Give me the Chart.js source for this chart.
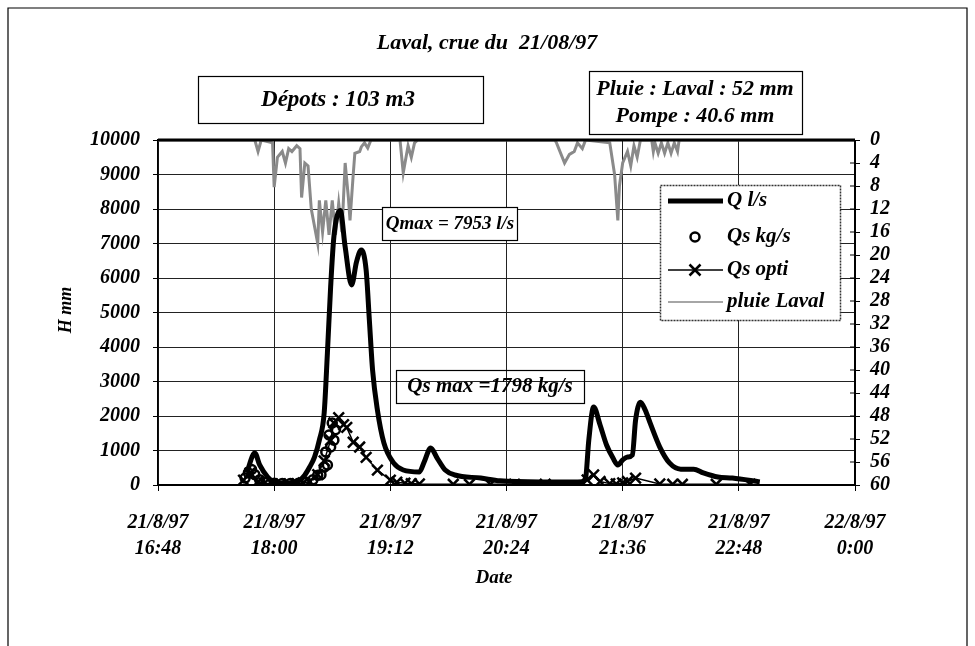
<!DOCTYPE html>
<html>
<head>
<meta charset="utf-8">
<title>Laval, crue du 21/08/97</title>
<script src="https://cdn.jsdelivr.net/npm/chart.js@4.4.1/dist/chart.umd.min.js"></script>
<style>
  html, body { margin: 0; padding: 0; background: #fff; }
  #wrap { position: relative; width: 975px; height: 646px; }
</style>
</head>
<body>
<div id="wrap"><canvas id="crue"></canvas></div>
<script>
// Laval, crue du 21/08/97 - all times are HH:MM on the 21st ("24:00" = 22/8 0:00)

// Q l/s (debit)
const qTimes = ['17:43', '17:48', '17:51', '17:56', '18:00', '18:07', '18:14', '18:19', '18:22', '18:25',
  '18:28', '18:31', '18:33', '18:35', '18:37', '18:41', '18:44', '18:48', '18:51', '18:54',
  '18:57', '18:59', '19:01', '19:04', '19:08', '19:14', '19:20', '19:30', '19:33', '19:37',
  '19:41', '19:46', '19:52', '20:08', '20:20', '20:45', '21:10', '21:13', '21:15', '21:18',
  '21:22', '21:26', '21:30', '21:33', '21:36', '21:39', '21:42', '21:44', '21:47', '21:50',
  '21:53', '21:59', '22:05', '22:12', '22:20', '22:26', '22:35', '22:44', '23:01'];
const qValues = [350, 930, 580, 230, 90, 60, 90, 290, 520, 810,
  1300, 2090, 3830, 5740, 7190, 7953, 6900, 5800, 6460, 6810,
  6230, 4780, 3330, 2170, 1220, 640, 435, 380, 670, 1070,
  780, 435, 290, 200, 120, 90, 90, 200, 1300, 2260,
  1740, 1160, 780, 580, 725, 810, 870, 1880, 2400, 2170,
  1800, 1100, 640, 460, 460, 350, 230, 200, 90];

// Qs kg/s (mesure)
const qsTimes = ['17:42', '17:44', '17:46', '17:48', '17:51', '17:55', '18:00', '18:05', '18:10', '18:15',
  '18:20', '18:24', '18:27', '18:29', '18:31', '18:32', '18:33', '18:34', '18:35', '18:36', '18:37', '18:38'];
const qsValues = [200, 350, 450, 300, 150, 80, 50, 40, 40, 50,
  80, 150, 280, 300, 520, 960, 580, 1450, 1100, 1798, 1300, 1600];

// Qs opti
const qoTimes = ['17:41', '17:45', '17:50', '17:54', '17:59', '18:04', '18:09', '18:14', '18:18', '18:22',
  '18:27', '18:31', '18:35', '18:37', '18:40', '18:43', '18:45', '18:49', '18:53', '18:57',
  '19:04', '19:12', '19:16', '19:21', '19:25', '19:30', '19:51', '20:01', '20:14', '20:29',
  '20:48', '21:14', '21:18', '21:22', '21:28', '21:32', '21:36', '21:39', '21:44', '21:59',
  '22:07', '22:13', '22:34', '22:55'];
const qoValues = [140, 350, 100, 50, 30, 30, 30, 40, 60, 100,
  300, 700, 1300, 1800, 1950, 1750, 1670, 1240, 1100, 800,
  430, 140, 80, 50, 40, 30, 20, 20, 20, 20,
  20, 150, 290, 100, 40, 30, 60, 100, 200, 30,
  20, 20, 20, 20];

// pluie Laval (mm, axe de droite inverse)
const rainTimes = ['16:48', '17:48', '17:50', '17:52', '17:59', '18:00', '18:02', '18:05', '18:07', '18:09',
  '18:11', '18:14', '18:16', '18:17', '18:19', '18:21', '18:23', '18:27', '18:28', '18:30',
  '18:32', '18:34', '18:36', '18:38', '18:40', '18:42', '18:44', '18:46', '18:47', '18:49',
  '18:50', '18:53', '18:54', '18:56', '18:58', '19:00', '19:18', '19:20', '19:23', '19:25',
  '19:27', '19:29', '20:54', '20:55', '21:00', '21:03', '21:06', '21:08', '21:11', '21:13',
  '21:28', '21:31', '21:33', '21:34', '21:36', '21:39', '21:41', '21:43', '21:45', '21:47',
  '21:54', '21:55', '21:56', '21:58', '22:00', '22:02', '22:04', '22:06', '22:08', '22:10',
  '22:11', '24:00'];
const rainMm = [0, 0, 2, 0, 0.5, 8.2, 3, 2, 4, 1.5,
  2, 1, 1.5, 10, 4, 4.5, 12, 18, 10.5, 16,
  10.5, 16.5, 10.5, 16.5, 11, 16, 4, 10, 14, 6,
  2.3, 2, 1.2, 0.5, 1.4, 0, 0, 5.7, 1, 3,
  0.5, 0, 0, 0.5, 4, 2.5, 2, 0.5, 1.5, 0,
  0.5, 6, 14, 8, 4, 2, 4.5, 1, 3, 0,
  0, 2, 0.5, 2.3, 0.5, 2.3, 0.5, 2.3, 0.5, 2,
  0, 0];

const xTickLabels = [['21/8/97', '16:48'], ['21/8/97', '18:00'], ['21/8/97', '19:12'], ['21/8/97', '20:24'],
  ['21/8/97', '21:36'], ['21/8/97', '22:48'], ['22/8/97', '0:00']];
const legendLabels = ['Q l/s', 'Qs kg/s', 'Qs opti', 'pluie Laval'];

const serif = '"Liberation Serif", "Times New Roman", serif';
const X_MIN = 16 * 60 + 48, X_STEP = 72;

const toMin = s => { const [h, m] = s.split(':').map(Number); return h * 60 + m; };
const pts = (times, values) => times.map((t, i) => ({ x: toMin(t), y: values[i] }));

function drawBox(ctx, x, y, w, h, fill) {
  ctx.save();
  if (fill) { ctx.fillStyle = '#fff'; ctx.fillRect(x, y, w, h); }
  ctx.strokeStyle = '#000';
  ctx.lineWidth = 1.2;
  ctx.strokeRect(x + 0.5, y + 0.5, w, h);
  ctx.restore();
}

function text(ctx, str, x, y, size, align) {
  ctx.font = 'italic bold ' + size + 'px ' + serif;
  ctx.fillStyle = '#000';
  ctx.textAlign = align || 'center';
  ctx.textBaseline = 'middle';
  ctx.fillText(str, x, y);
}

// title, boxes, axis titles and legend
const decor = {
  id: 'decor',
  afterDatasetsDraw(chart) {
    const ctx = chart.ctx;
    const a = chart.chartArea;
    ctx.save();

    // frame of the plot
    ctx.strokeStyle = '#000';
    ctx.lineWidth = 3;
    ctx.beginPath(); ctx.moveTo(a.left, a.top); ctx.lineTo(a.right, a.top); ctx.stroke();
    ctx.lineWidth = 2;
    ctx.beginPath(); ctx.moveTo(a.right, a.top); ctx.lineTo(a.right, a.bottom); ctx.lineTo(a.left, a.bottom); ctx.stroke();

    // inner half of the cross ticks on the right axis
    const y1 = chart.scales.y1;
    ctx.lineWidth = 1;
    y1.ticks.forEach(t => {
      const py = y1.getPixelForValue(t.value);
      ctx.beginPath(); ctx.moveTo(a.right - 5, py); ctx.lineTo(a.right, py); ctx.stroke();
    });

    // outer frame of the figure
    ctx.lineWidth = 1.2;
    ctx.beginPath(); ctx.moveTo(8, 646); ctx.lineTo(8, 8); ctx.lineTo(967, 8); ctx.lineTo(967, 646); ctx.stroke();

    text(ctx, 'Laval, crue du  21/08/97', 487, 43, 22);

    drawBox(ctx, 198, 76, 285, 47, true);
    text(ctx, 'Dépots : 103 m3', 338, 100, 23);

    drawBox(ctx, 589, 71, 213, 63, true);
    text(ctx, 'Pluie : Laval : 52 mm', 695, 89, 22);
    text(ctx, 'Pompe : 40.6 mm', 695, 116, 22);

    drawBox(ctx, 382, 207, 135, 33, true);
    text(ctx, 'Qmax = 7953 l/s', 450, 224, 19);

    drawBox(ctx, 396, 370, 188, 33, false);
    text(ctx, 'Qs max =1798 kg/s', 490, 387, 21);

    // axis titles
    text(ctx, 'Date', 494, 578, 19);
    ctx.save();
    ctx.translate(66, 310);
    ctx.rotate(-Math.PI / 2);
    text(ctx, 'H mm', 0, 0, 18);
    ctx.restore();

    // legend
    const lx = 660, ly = 185, lw = 180, lh = 135;
    ctx.fillStyle = '#fff';
    ctx.fillRect(lx, ly, lw, lh);
    ctx.setLineDash([2, 1]);
    ctx.strokeStyle = '#333';
    ctx.lineWidth = 1.5;
    ctx.strokeRect(lx + 0.5, ly + 0.5, lw, lh);
    ctx.setLineDash([]);

    const rows = [201, 237, 270, 302];
    const s0 = 668, s1 = 723, sm = 695;
    ctx.strokeStyle = '#000';
    ctx.lineWidth = 5;
    ctx.beginPath(); ctx.moveTo(s0, rows[0]); ctx.lineTo(s1, rows[0]); ctx.stroke();

    ctx.lineWidth = 2.5;
    ctx.beginPath(); ctx.arc(sm, rows[1], 4.5, 0, Math.PI * 2); ctx.stroke();

    ctx.lineWidth = 1.5;
    ctx.beginPath(); ctx.moveTo(s0, rows[2]); ctx.lineTo(s1, rows[2]); ctx.stroke();
    ctx.lineWidth = 2.5;
    ctx.beginPath();
    ctx.moveTo(sm - 5.5, rows[2] - 5.5); ctx.lineTo(sm + 5.5, rows[2] + 5.5);
    ctx.moveTo(sm - 5.5, rows[2] + 5.5); ctx.lineTo(sm + 5.5, rows[2] - 5.5);
    ctx.stroke();

    ctx.strokeStyle = '#888';
    ctx.lineWidth = 1.5;
    ctx.beginPath(); ctx.moveTo(s0, rows[3]); ctx.lineTo(s1, rows[3]); ctx.stroke();

    legendLabels.forEach((lab, i) => text(ctx, lab, 727, rows[i], 21, 'left'));

    ctx.restore();
  }
};

const tickFont = { family: serif, size: 20, style: 'italic', weight: 'bold' };

new Chart(document.getElementById('crue'), {
  type: 'line',
  data: {
    datasets: [
      {
        label: legendLabels[0],
        data: pts(qTimes, qValues),
        yAxisID: 'y',
        borderColor: '#000',
        borderWidth: 5,
        pointRadius: 0,
        cubicInterpolationMode: 'monotone',
        order: 2
      },
      {
        label: legendLabels[1],
        data: pts(qsTimes, qsValues),
        yAxisID: 'y',
        showLine: false,
        pointStyle: 'circle',
        pointRadius: 4.5,
        pointBorderWidth: 2.5,
        pointBorderColor: '#000',
        pointBackgroundColor: 'rgba(0,0,0,0)',
        order: 1
      },
      {
        label: legendLabels[2],
        data: pts(qoTimes, qoValues),
        yAxisID: 'y',
        borderColor: '#000',
        borderWidth: 1.5,
        pointStyle: 'crossRot',
        pointRadius: 7.5,
        pointBorderWidth: 2.5,
        pointBorderColor: '#000',
        order: 0
      },
      {
        label: legendLabels[3],
        data: pts(rainTimes, rainMm),
        yAxisID: 'y1',
        borderColor: '#8a8a8a',
        borderWidth: 3,
        pointRadius: 0,
        tension: 0,
        order: 3
      }
    ]
  },
  options: {
    responsive: true,
    maintainAspectRatio: false,
    animation: false,
    layout: { padding: { top: 140, left: 0, right: 0, bottom: 0 } },
    plugins: {
      legend: { display: false },
      tooltip: { enabled: false }
    },
    scales: {
      x: {
        type: 'linear',
        min: X_MIN,
        max: 24 * 60,
        afterFit: s => { s.height = 161; },
        ticks: {
          stepSize: X_STEP,
          autoSkip: false,
          maxRotation: 0,
          padding: 19,
          color: '#000',
          font: { ...tickFont, lineHeight: 1.3 },
          callback: v => xTickLabels[Math.round((v - X_MIN) / X_STEP)]
        },
        grid: { color: '#222', lineWidth: 1, tickLength: 6, tickColor: '#000' },
        border: { display: false }
      },
      y: {
        position: 'left',
        min: 0,
        max: 10000,
        afterFit: s => { s.width = 158; },
        ticks: { stepSize: 1000, autoSkip: false, padding: 13, color: '#000', font: tickFont, callback: v => String(v) },
        grid: { color: '#222', lineWidth: 1, tickLength: 5, tickColor: '#000' },
        border: { display: true, color: '#000', width: 1.5 }
      },
      y1: {
        position: 'right',
        min: 0,
        max: 60,
        reverse: true,
        afterFit: s => { s.width = 120; },
        ticks: { stepSize: 4, autoSkip: false, padding: 10, color: '#000', font: tickFont, callback: v => String(v) },
        grid: { drawOnChartArea: false, tickLength: 5, tickColor: '#000' },
        border: { display: false }
      }
    }
  },
  plugins: [decor]
});
</script>
</body>
</html>
